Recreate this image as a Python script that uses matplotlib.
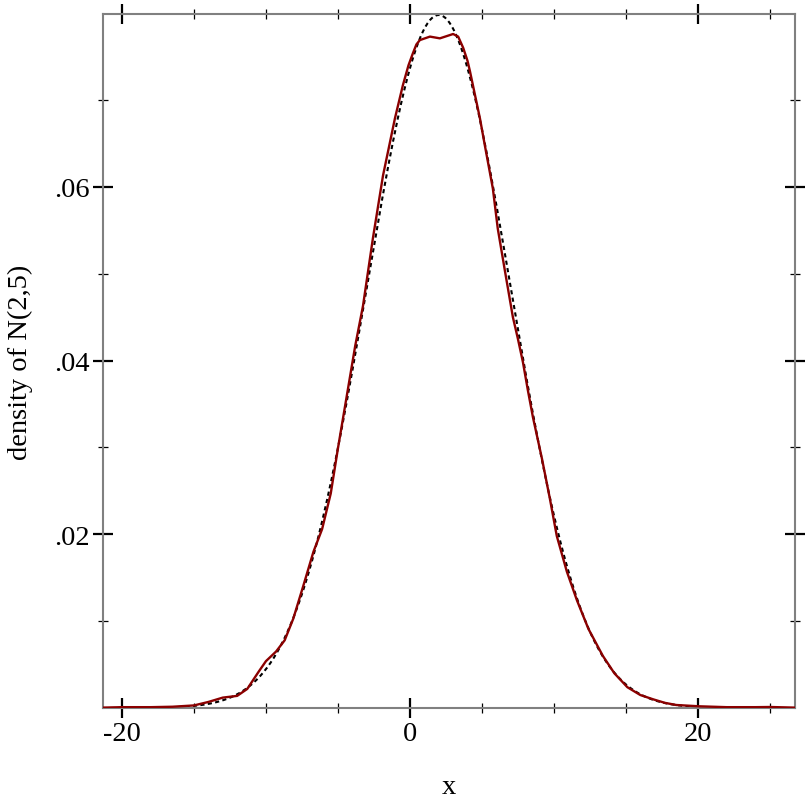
import numpy as np
import matplotlib
matplotlib.use("Agg")
import matplotlib.pyplot as plt
from matplotlib.ticker import FixedLocator, FuncFormatter

plt.rcParams["font.family"] = ["Liberation Serif", "DejaVu Serif"]

# Normal distribution being plotted
mu, sigma = 2.0, 5.0

# Kernel density estimate (x, density)
kde_x = [-21.3, -20.0, -18.0, -16.5, -15.0, -14.0, -13.0, -12.0, -11.3, -10.5,
         -10.0, -9.3, -8.7, -8.1, -7.4, -6.7, -6.1, -5.5, -5.0, -4.4,
         -3.8, -3.26, -2.57, -1.87, -1.04, -0.49, -0.1, 0.21, 0.45, 0.69,
         1.39, 2.08, 3.0, 3.35, 3.7, 4.0, 4.17, 4.86, 5.2, 5.76,
         6.1, 6.6, 7.15, 7.5, 7.85, 8.2, 8.54, 9.17, 9.72, 10.2,
         10.9, 11.6, 12.4, 13.4, 14.2, 15.1, 16.0, 16.9, 17.7, 18.5,
         20.1, 22.0, 24.0, 25.0, 26.7]
kde_y = [0.00005, 0.0001, 0.0001, 0.00015, 0.0003, 0.0007, 0.0012, 0.0014, 0.0022, 0.0042,
         0.0054, 0.0065, 0.0078, 0.0103, 0.0141, 0.0180, 0.0206, 0.0247, 0.0299, 0.0358,
         0.0417, 0.0463, 0.0541, 0.0613, 0.0679, 0.0717, 0.0740, 0.0754, 0.0764, 0.0769,
         0.0773, 0.0771, 0.0776, 0.0773, 0.0760, 0.0745, 0.0733, 0.0679, 0.0648, 0.0598,
         0.0552, 0.0503, 0.0450, 0.0425, 0.0398, 0.0365, 0.0335, 0.0287, 0.0241, 0.0198,
         0.0157, 0.0124, 0.0091, 0.0060, 0.0040, 0.0024, 0.0015, 0.0010, 0.0006, 0.00035,
         0.0002, 0.0001, 0.0001, 0.00012, 0.00005]

x_major = [-20, 0, 20]
x_minor = [-15, -10, -5, 5, 10, 15, 25]
y_major = [0.02, 0.04, 0.06]
y_minor = [0.01, 0.03, 0.05, 0.07]

xlim = (-21.32, 26.74)
ylim = (0.0, 0.0799)

fig = plt.figure(figsize=(8.12, 8.12), dpi=100)
ax = fig.add_axes([0.1268, 0.1268, 0.979 - 0.1268, 0.9815 - 0.1268])

xs = np.linspace(xlim[0], xlim[1], 600)
pdf = np.exp(-0.5 * ((xs - mu) / sigma) ** 2) / (sigma * np.sqrt(2 * np.pi))
ax.plot(xs, pdf, color="black", lw=1.5, linestyle=(0, (2, 1.6)), zorder=2)
ax.plot(kde_x, kde_y, color="#8b0000", lw=1.7, zorder=3)

ax.set_xlim(*xlim)
ax.set_ylim(*ylim)

ax.xaxis.set_major_locator(FixedLocator(x_major))
ax.xaxis.set_minor_locator(FixedLocator(x_minor))
ax.yaxis.set_major_locator(FixedLocator(y_major))
ax.yaxis.set_minor_locator(FixedLocator(y_minor))
ax.xaxis.set_major_formatter(FuncFormatter(lambda v, p: f"{v:g}"))
ax.yaxis.set_major_formatter(FuncFormatter(lambda v, p: f"{v:.2f}".lstrip("0")))

ax.tick_params(which="major", direction="inout", length=15, width=1.6, color="black",
               top=True, right=True, labelsize=20.5, pad=2)
ax.tick_params(which="minor", direction="inout", length=7.5, width=0.9, color="black",
               top=True, right=True)

for s in ax.spines.values():
    s.set_color("#808080")
    s.set_linewidth(1.5)

ax.set_xlabel("x", fontsize=20.5, labelpad=20)
ax.set_ylabel("density of N(2,5)", fontsize=20.5, labelpad=15)

fig.savefig("out.png", dpi=100)
